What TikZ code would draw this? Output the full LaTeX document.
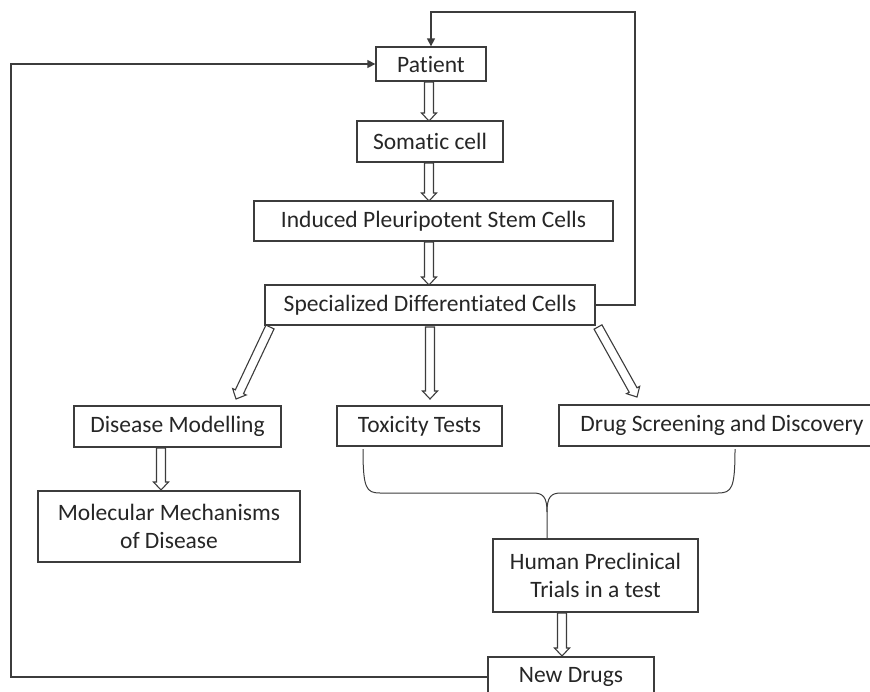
\documentclass[tikz,border=0pt]{standalone}
\usepackage{fontspec}
\setmainfont{Carlito}[Ligatures=NoCommon]
\usetikzlibrary{calc,arrows.meta}
\definecolor{lc}{HTML}{3C3C3C}
\definecolor{tc}{HTML}{262626}
\tikzset{
 box/.style={draw=lc, line width=1.3pt, fill=white, inner sep=0pt, align=center,
   font=\fontsize{23.5}{28.5}\selectfont, text=tc},
 link/.style={draw=lc, line width=1.3pt},
 tipped/.style={-{Triangle[length=8pt,width=8pt]}},
 hol/.style={draw=lc, line width=1.1pt, fill=white, line join=miter},
}
\newcommand\harrow[2]{%
 \coordinate (hh) at ($(#2)!8pt!(#1)$);
 \draw[hol] ($(#1)!4.5pt!90:(#2)$) -- ($(hh)!4.5pt!90:(#2)$) -- ($(hh)!7.5pt!90:(#2)$) -- (#2)
   -- ($(hh)!7.5pt!-90:(#2)$) -- ($(hh)!4.5pt!-90:(#2)$) -- ($(#1)!4.5pt!-90:(#2)$) -- cycle;}
\begin{document}
\begin{tikzpicture}[x=1pt,y=-1pt]
\useasboundingbox (0,0) rectangle (870,691);
% boxes
\node[box, minimum width=110pt, minimum height=34pt] (patient) at (431,64) {Patient};
\node[box, minimum width=146pt, minimum height=41pt] (somatic) at (430,141.5) {Somatic cell};
\node[box, minimum width=359pt, minimum height=40pt] (ipsc) at (433.5,221) {Induced Pleuripotent Stem Cells};
\node[box, minimum width=330pt, minimum height=40pt] (spec) at (430,305) {Specialized Differentiated Cells};
\node[box, minimum width=207pt, minimum height=41pt] (disease) at (177.5,426.5) {Disease Modelling};
\node[box, minimum width=165pt, minimum height=40pt] (tox) at (419.5,426) {Toxicity Tests};
\node[box, minimum width=326pt, minimum height=41pt] (drug) at (722,425.5) {Drug Screening and Discovery};
\node[box, minimum width=262pt, minimum height=71pt] (molec) at (169,526.5) {Molecular Mechanisms\\of Disease};
\node[box, minimum width=205pt, minimum height=73pt] (human) at (595.5,575.5) {Human Preclinical\\Trials in a test};
\node[box, minimum width=166pt, minimum height=40pt] (newd) at (571,677) {New Drugs};
% hollow arrows
\coordinate (a1) at (429,82);  \coordinate (b1) at (429,121);
\coordinate (a2) at (429,163); \coordinate (b2) at (429,201);
\coordinate (a3) at (429,242); \coordinate (b3) at (429,285);
\coordinate (a4) at (270,327); \coordinate (b4) at (236,399);
\coordinate (a5) at (430,327); \coordinate (b5) at (430,399);
\coordinate (a6) at (598,327); \coordinate (b6) at (637,397);
\coordinate (a7) at (161,448); \coordinate (b7) at (161,490);
\coordinate (a8) at (562,613); \coordinate (b8) at (562,656);
\harrow{a1}{b1}
\harrow{a2}{b2}
\harrow{a3}{b3}
\harrow{a4}{b4}
\harrow{a5}{b5}
\harrow{a6}{b6}
\harrow{a7}{b7}
\harrow{a8}{b8}
% feedback loops
\coordinate (tr) at (635,12);
\draw[link, tipped] (spec.east) -| (tr) -| (patient.north);
\coordinate (bl) at (11,677);
\draw[link, tipped] (newd.west) -- (bl) |- (patient.west);
% brace
\coordinate (brl) at (363,449);
\coordinate (brr) at (735,449);
\coordinate (brm) at (547,539);
\draw[link, line width=1pt] (brl) .. controls (363,488) and (366,493) .. (380,493) -- (533,493)
  .. controls (543,493) and (547,497) .. (547,512) -- (brm);
\draw[link, line width=1pt] (brr) .. controls (735,488) and (732,493) .. (718,493) -- (561,493)
  .. controls (551,493) and (547,497) .. (547,512);
\end{tikzpicture}
\end{document}
